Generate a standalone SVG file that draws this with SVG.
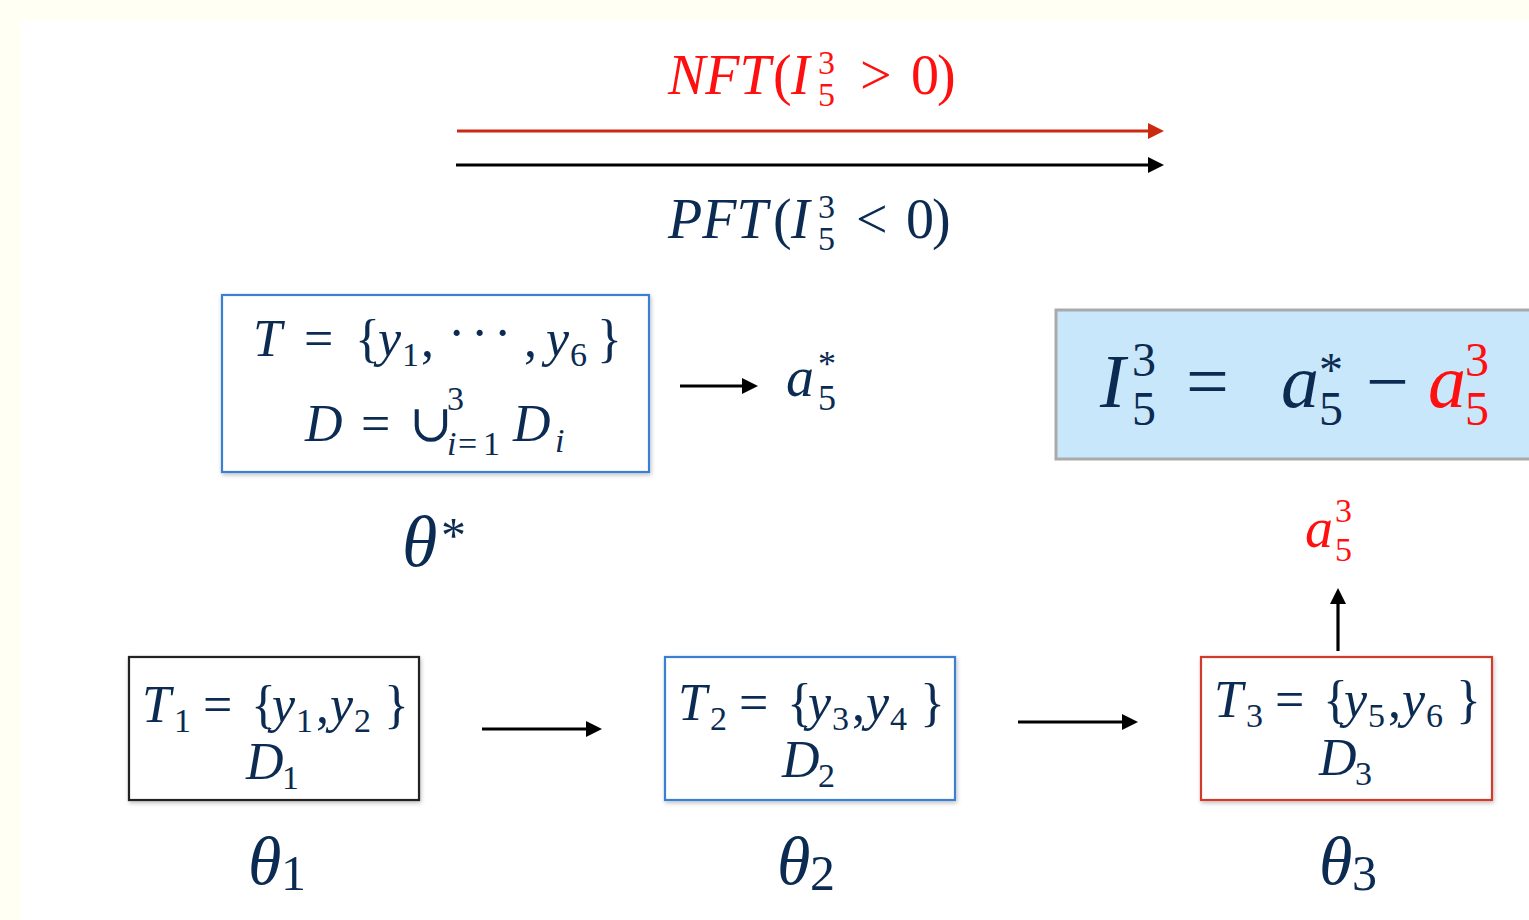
<svg xmlns="http://www.w3.org/2000/svg" width="1529" height="920" viewBox="0 0 1529 920">
<defs>
<style>
.m{font-family:"Liberation Serif","DejaVu Serif",serif;fill:#0b2b52}
.i{font-style:italic}
.n{font-style:normal}
.r{fill:#ff1010}
.box{fill:#ffffff;stroke-width:2.2}
</style>
<marker id="ah" viewBox="0 0 16 16" markerUnits="userSpaceOnUse" markerWidth="16" markerHeight="17" refX="0" refY="8" orient="auto"><path d="M0,0 L16,8 L0,16 Z" fill="#000"/></marker>
<marker id="ahr" viewBox="0 0 16 16" markerUnits="userSpaceOnUse" markerWidth="16" markerHeight="17" refX="0" refY="8" orient="auto"><path d="M0,0 L16,8 L0,16 Z" fill="#cc2a10"/></marker>
<filter id="sh" x="-5%" y="-5%" width="110%" height="115%"><feDropShadow dx="1" dy="2" stdDeviation="2" flood-color="#000" flood-opacity="0.25"/></filter>
</defs>
<rect width="1529" height="920" fill="#fffff4"/>
<rect x="21" y="20" width="1508" height="900" fill="#ffffff"/>

<g id="connectors" stroke-width="3.2" fill="none">
<line x1="457" y1="131" x2="1148" y2="131" stroke="#cc2a10" marker-end="url(#ahr)"/>
<line x1="456" y1="165" x2="1148" y2="165" stroke="#000" marker-end="url(#ah)"/>
<line x1="680" y1="386" x2="742" y2="386" stroke="#000" marker-end="url(#ah)"/>
<line x1="482" y1="729" x2="586" y2="729" stroke="#000" marker-end="url(#ah)"/>
<line x1="1018" y1="722" x2="1122" y2="722" stroke="#000" marker-end="url(#ah)"/>
<line x1="1338" y1="651" x2="1338" y2="604" stroke="#000" marker-end="url(#ah)"/>
</g>

<g id="label-nft">
<text class="m r" font-size="56" y="94"><tspan class="i" x="668">NFT</tspan><tspan class="n" x="773">(</tspan><tspan class="i" x="791">I</tspan><tspan x="818" y="74" font-size="34">3</tspan><tspan x="818" y="106" font-size="34">5</tspan><tspan x="860" y="94">&gt;</tspan><tspan x="911">0</tspan><tspan x="937">)</tspan></text>
</g>
<g id="label-pft">
<text class="m" font-size="56" y="238"><tspan class="i" x="668">PFT</tspan><tspan class="n" x="773">(</tspan><tspan class="i" x="791">I</tspan><tspan x="818" y="218" font-size="34">3</tspan><tspan x="818" y="250" font-size="34">5</tspan><tspan x="856" y="238">&lt;</tspan><tspan x="906">0</tspan><tspan x="932">)</tspan></text>
</g>

<g id="node-theta-star">
<rect class="box" x="222" y="295" width="427" height="177" stroke="#3b7fd0" filter="url(#sh)"/>
<text class="m" font-size="52" y="356"><tspan class="i" x="253">T</tspan><tspan x="304">=</tspan><tspan x="355">{</tspan><tspan class="i" x="378">y</tspan><tspan x="402" y="366" font-size="34">1</tspan><tspan x="421" y="356">,</tspan><tspan x="448" y="350">·</tspan><tspan x="471">·</tspan><tspan x="494">·</tspan><tspan x="524" y="356">,</tspan><tspan class="i" x="546">y</tspan><tspan x="570" y="366" font-size="34">6</tspan><tspan x="597" y="356">}</tspan></text>
<text class="m" font-size="52" y="441"><tspan class="i" x="305">D</tspan><tspan x="361">=</tspan><tspan x="409">∪</tspan><tspan x="447" y="410" font-size="34">3</tspan><tspan class="i" x="447" y="455" font-size="34">i</tspan><tspan x="458" y="455" font-size="34">=</tspan><tspan x="483" y="455" font-size="34">1</tspan><tspan class="i" x="513" y="441">D</tspan><tspan class="i" x="555" y="452" font-size="34">i</tspan></text>
<text class="m" font-size="72" y="566"><tspan class="i" x="402">θ</tspan><tspan x="441" y="552" font-size="50">*</tspan></text>
</g>

<g id="node-a5star">
<text class="m" font-size="56" y="396"><tspan class="i" x="786">a</tspan><tspan x="818" y="376" font-size="36">*</tspan><tspan x="818" y="410" font-size="36">5</tspan></text>
</g>

<g id="node-formula">
<rect x="1056" y="310" width="480" height="149" fill="#c8e7fb" stroke="#aaaaaa" stroke-width="3"/>
<text class="m" font-size="76" y="407"><tspan class="i" x="1100">I</tspan><tspan x="1132" y="376" font-size="48">3</tspan><tspan x="1132" y="425" font-size="48">5</tspan><tspan x="1186" y="407">=</tspan><tspan class="i" x="1281">a</tspan><tspan x="1319" y="386" font-size="48">*</tspan><tspan x="1319" y="425" font-size="48">5</tspan><tspan x="1366" y="407">−</tspan><tspan class="i r" x="1428">a</tspan><tspan class="r" x="1465" y="376" font-size="48">3</tspan><tspan class="r" x="1465" y="425" font-size="48">5</tspan></text>
</g>

<g id="node-a53">
<text class="m r" font-size="56" y="547"><tspan class="i" x="1305">a</tspan><tspan x="1335" y="522" font-size="34">3</tspan><tspan x="1335" y="561" font-size="34">5</tspan></text>
</g>

<g id="node-theta1">
<rect class="box" x="129" y="657" width="290" height="143" stroke="#222" filter="url(#sh)"/>
<text class="m" font-size="52" y="722"><tspan class="i" x="142">T</tspan><tspan x="174" y="732" font-size="34">1</tspan><tspan x="203" y="722">=</tspan><tspan x="251">{</tspan><tspan class="i" x="272">y</tspan><tspan x="296" y="732" font-size="34">1</tspan><tspan x="316" y="722">,</tspan><tspan class="i" x="330">y</tspan><tspan x="354" y="732" font-size="34">2</tspan><tspan x="384" y="722">}</tspan></text>
<text class="m" font-size="52" y="779"><tspan class="i" x="246">D</tspan><tspan x="282" y="789" font-size="34">1</tspan></text>
<text class="m" font-size="68" y="884"><tspan class="i" x="248">θ</tspan><tspan x="281" y="890" font-size="50">1</tspan></text>
</g>

<g id="node-theta2">
<rect class="box" x="665" y="657" width="290" height="143" stroke="#3b7fd0" filter="url(#sh)"/>
<text class="m" font-size="52" y="720"><tspan class="i" x="678">T</tspan><tspan x="710" y="730" font-size="34">2</tspan><tspan x="739" y="720">=</tspan><tspan x="787">{</tspan><tspan class="i" x="808">y</tspan><tspan x="832" y="730" font-size="34">3</tspan><tspan x="852" y="720">,</tspan><tspan class="i" x="866">y</tspan><tspan x="890" y="730" font-size="34">4</tspan><tspan x="920" y="720">}</tspan></text>
<text class="m" font-size="52" y="777"><tspan class="i" x="782">D</tspan><tspan x="818" y="787" font-size="34">2</tspan></text>
<text class="m" font-size="68" y="884"><tspan class="i" x="777">θ</tspan><tspan x="810" y="890" font-size="50">2</tspan></text>
</g>

<g id="node-theta3">
<rect class="box" x="1201" y="657" width="291" height="143" stroke="#d03a2a" filter="url(#sh)"/>
<text class="m" font-size="52" y="717"><tspan class="i" x="1214">T</tspan><tspan x="1246" y="727" font-size="34">3</tspan><tspan x="1275" y="717">=</tspan><tspan x="1323">{</tspan><tspan class="i" x="1344">y</tspan><tspan x="1368" y="727" font-size="34">5</tspan><tspan x="1388" y="717">,</tspan><tspan class="i" x="1402">y</tspan><tspan x="1426" y="727" font-size="34">6</tspan><tspan x="1456" y="717">}</tspan></text>
<text class="m" font-size="52" y="775"><tspan class="i" x="1319">D</tspan><tspan x="1355" y="785" font-size="34">3</tspan></text>
<text class="m" font-size="68" y="884"><tspan class="i" x="1319">θ</tspan><tspan x="1352" y="890" font-size="50">3</tspan></text>
</g>
</svg>
